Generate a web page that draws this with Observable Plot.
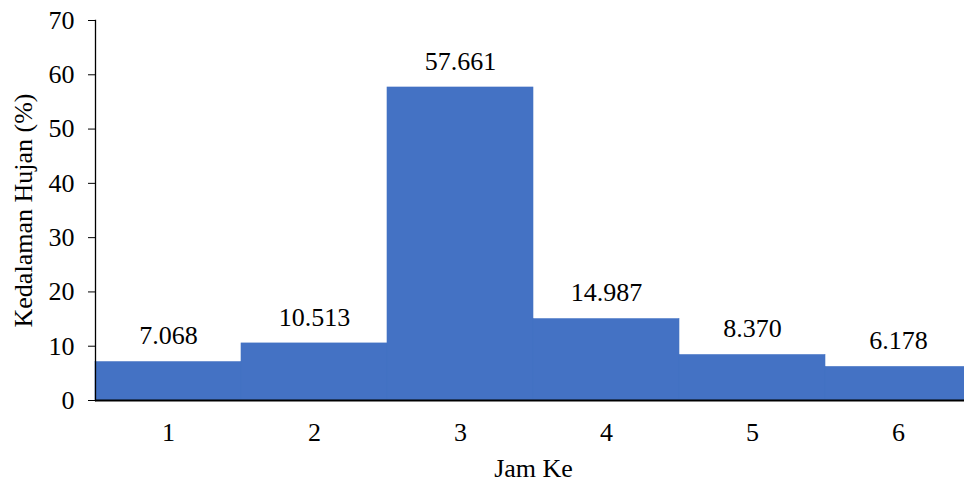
<!DOCTYPE html>
<html>
<head>
<meta charset="utf-8">
<script src="https://cdn.jsdelivr.net/npm/d3@7"></script>
<script src="https://cdn.jsdelivr.net/npm/@observablehq/plot@0.6"></script>
<style>
  html, body { margin: 0; padding: 0; background: #fff; overflow: hidden; }
  #chart svg { display: block; max-width: none !important; }
  #chart svg, #chart svg text, #chart svg g {
    font-family: "Liberation Serif", serif !important;
    font-variant: normal !important;
    font-variant-numeric: normal !important;
  }
</style>
</head>
<body>
<div id="chart"></div>
<script>
// Rainfall depth distribution per hour
const hours = ["1", "2", "3", "4", "5", "6"];
const depthPct = [7.068, 10.513, 57.661, 14.987, 8.370, 6.178];
const yTicks = [0, 10, 20, 30, 40, 50, 60, 70];

const data = hours.map((h, i) => ({hour: h, value: depthPct[i]}));

const chart = Plot.plot({
  width: 971,
  height: 484,
  marginLeft: 95,
  marginRight: 0,
  marginTop: 20,
  marginBottom: 84,
  style: {fontSize: "26px", color: "#000", background: "#fff"},
  x: {domain: hours, padding: 0},
  y: {domain: [0, 70]},
  marks: [
    Plot.barY(data, {x: "hour", y: "value", fill: "#4472C4", stroke: "#4472C4", strokeWidth: 0.6, inset: 0}),
    Plot.text(data, {x: "hour", y: "value", text: d => d.value.toFixed(3), dy: -26, fill: "#000", fontSize: 26}),
    Plot.frame({anchor: "left", stroke: "#000", strokeWidth: 1.3}),
    Plot.ruleY([0], {stroke: "#000", strokeWidth: 1.8}),
    Plot.axisY({ticks: yTicks, tickSize: 7, tickPadding: 14, label: "Kedalaman Hujan (%)", labelAnchor: "center", labelArrow: "none", labelOffset: 82, fontSize: 26}),
    Plot.axisX({tickSize: 0, tickPadding: 22, label: "Jam Ke", labelAnchor: "center", labelArrow: "none", labelOffset: 76, fontSize: 26})
  ]
});

document.getElementById("chart").appendChild(chart);
</script>
</body>
</html>
